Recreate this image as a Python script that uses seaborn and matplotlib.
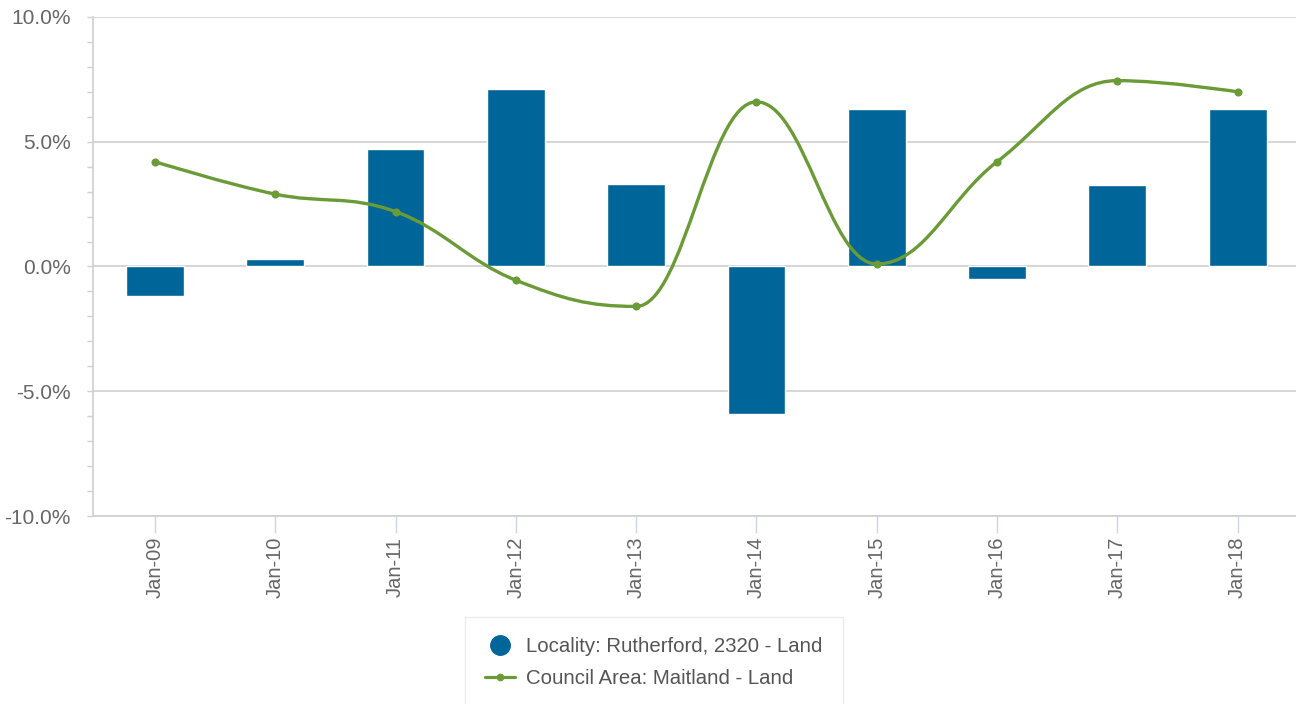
import numpy as np
import pandas as pd
import matplotlib
matplotlib.use("Agg")
import matplotlib.pyplot as plt
import seaborn as sns
from matplotlib.path import Path
from matplotlib.patches import PathPatch
from matplotlib.lines import Line2D
from matplotlib.ticker import MultipleLocator, FuncFormatter

# data (annual change, %)
periods = ["Jan-09", "Jan-10", "Jan-11", "Jan-12", "Jan-13",
           "Jan-14", "Jan-15", "Jan-16", "Jan-17", "Jan-18"]
locality_change = [-1.2, 0.3, 4.7, 7.1, 3.3, -5.9, 6.3, -0.5, 3.25, 6.3]
council_change = [4.2, 2.9, 2.2, -0.55, -1.6, 6.6, 0.1, 4.2, 7.45, 7.0]

locality_label = "Locality: Rutherford, 2320 - Land"
council_label = "Council Area: Maitland - Land"

BLUE = "#006699"
GREEN = "#6a9b36"
GRID = "#d0d0d0"
TEXT = "#666666"


def spline_path(xs, ys, smoothing=1.5):
    """Bezier path through the points, same control-point rule as a Highcharts spline."""
    verts = [(xs[0], ys[0])]
    codes = [Path.MOVETO]
    prev_right = (xs[0], ys[0])
    n = len(xs)
    for i in range(1, n):
        x, y = xs[i], ys[i]
        if i < n - 1:
            lx, ly = xs[i - 1], ys[i - 1]
            nx_, ny = xs[i + 1], ys[i + 1]
            d = smoothing + 1
            lcx, lcy = (smoothing * x + lx) / d, (smoothing * y + ly) / d
            rcx, rcy = (smoothing * x + nx_) / d, (smoothing * y + ny) / d
            corr = (rcy - lcy) * (rcx - x) / (rcx - lcx) + y - rcy
            lcy += corr
            rcy += corr
            if lcy > ly and lcy > y:
                lcy = max(ly, y); rcy = 2 * y - lcy
            elif lcy < ly and lcy < y:
                lcy = min(ly, y); rcy = 2 * y - lcy
            if rcy > ny and rcy > y:
                rcy = max(ny, y); lcy = 2 * y - rcy
            elif rcy < ny and rcy < y:
                rcy = min(ny, y); lcy = 2 * y - rcy
        else:
            lcx, lcy, rcx, rcy = x, y, x, y
        verts += [prev_right, (lcx, lcy), (x, y)]
        codes += [Path.CURVE4] * 3
        prev_right = (rcx, rcy)
    return Path(verts, codes)


sns.set_theme(style="white")
plt.rcParams["font.family"] = ["Liberation Sans", "DejaVu Sans"]

df = pd.DataFrame({"period": periods, "locality": locality_change, "council": council_change})

fig = plt.figure(figsize=(12.96, 7.04), dpi=100)
ax = fig.add_axes([93 / 1296, 1 - 516 / 704, 1 - 93 / 1296, (516 - 17) / 704])

sns.barplot(data=df, x="period", y="locality", color=BLUE, saturation=1,
            width=0.48, edgecolor="white", linewidth=1, ax=ax, zorder=2)

xs = np.arange(len(periods))
path = spline_path(list(xs), council_change)
ax.add_patch(PathPatch(path, facecolor="none", edgecolor=GREEN, lw=2.4, zorder=3,
                       capstyle="round", joinstyle="round"))
sns.scatterplot(x=xs, y=council_change, color=GREEN, s=34, linewidth=0, ax=ax, zorder=4)

ax.set_xlim(-0.515, 9.485)
ax.set_ylim(-10, 10)
ax.yaxis.set_major_locator(MultipleLocator(5))
ax.yaxis.set_minor_locator(MultipleLocator(1))
ax.yaxis.set_major_formatter(FuncFormatter(lambda v, p: f"{v:.1f}%"))
ax.grid(axis="y", which="major", color=GRID, lw=1.2)
ax.set_axisbelow(True)

for s in ["top", "right"]:
    ax.spines[s].set_visible(False)
for s in ["left", "bottom"]:
    ax.spines[s].set_color(GRID)
    ax.spines[s].set_linewidth(1.2)

ax.tick_params(axis="y", which="both", left=True, length=4, width=1, color=GRID,
               pad=12, labelsize=15, labelcolor=TEXT)
ax.tick_params(axis="x", bottom=True, length=12, width=1, color="#ccd6eb",
               pad=3, labelsize=14.5, labelcolor=TEXT, labelrotation=90)
ax.set_xlabel("")
ax.set_ylabel("")

handles = [
    Line2D([], [], marker="o", linestyle="none", color=BLUE, markersize=14),
    Line2D([], [], marker="o", color=GREEN, lw=2.3, markersize=4.5),
]
leg = fig.legend(handles, [locality_label, council_label], loc="upper left",
                 bbox_to_anchor=(465 / 1296, 1 - 617 / 704), frameon=True,
                 fancybox=False, fontsize=14.7, labelcolor="#555555",
                 handlelength=1.47, handletextpad=0.54, labelspacing=0.6,
                 borderpad=1.0, borderaxespad=0)
leg.get_frame().set_edgecolor("#e6e6e6")
leg.get_frame().set_linewidth(1)

fig.savefig("out.png", dpi=100)
